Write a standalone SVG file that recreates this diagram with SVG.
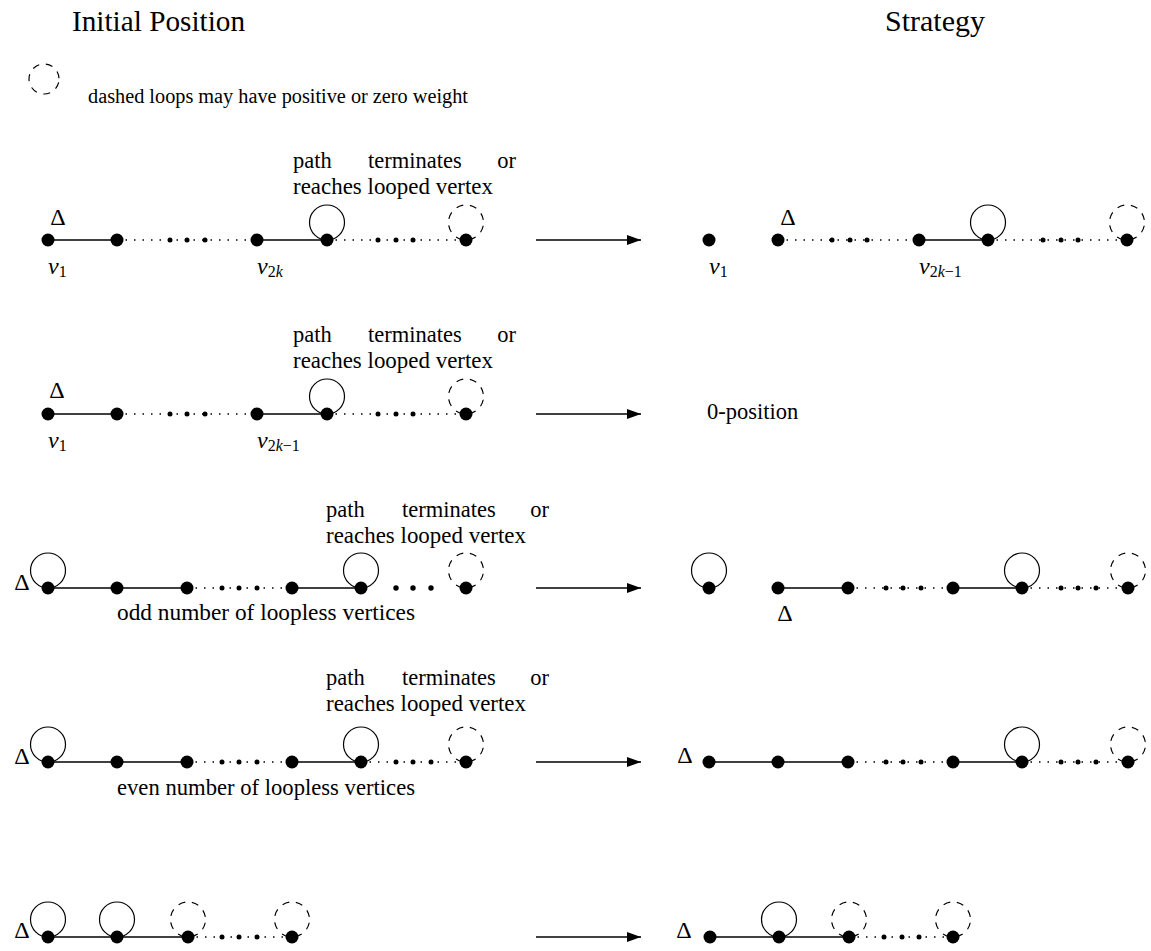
<svg xmlns="http://www.w3.org/2000/svg" width="1151" height="951" viewBox="0 0 1151 951">
<defs>
<style>
.node{fill:#000}
.sd{fill:#000}
.edge{stroke:#000;stroke-width:1.3;fill:none}
.dot{stroke:#000;stroke-width:1.5;fill:none;stroke-dasharray:1.5 7}
.loop{stroke:#000;stroke-width:1.2;fill:none}
.dloop{stroke:#000;stroke-width:1.2;fill:none;stroke-dasharray:7 6.75;stroke-dashoffset:10.4}
.arr{stroke:#000;stroke-width:1.3;fill:none}
</style>
<marker id="ah" viewBox="0 0 14 10" refX="14" refY="5" markerWidth="14" markerHeight="10" markerUnits="userSpaceOnUse" orient="auto">
<path d="M0,0 L14,5 L0,10 Z" fill="#000"/>
</marker>
</defs>
<rect width="1151" height="951" fill="#fff"/>

<g id="headers">
<text font-family="Liberation Serif" font-size="29" x="72" y="31" textLength="173" lengthAdjust="spacingAndGlyphs">Initial Position</text>
<text font-family="Liberation Serif" font-size="29" x="885" y="31" textLength="100" lengthAdjust="spacingAndGlyphs">Strategy</text>
</g>

<g id="legend">
<circle class="dloop" cx="44" cy="79" r="15"/>
<text font-family="Liberation Serif" font-size="20.5" x="88" y="103" textLength="380" lengthAdjust="spacingAndGlyphs">dashed loops may have positive or zero weight</text>
</g>

<g id="connectors">
<line class="edge" x1="48" y1="240" x2="117" y2="240"/>
<line class="dot" x1="117" y1="240" x2="257" y2="240"/>
<line class="edge" x1="257" y1="240" x2="327" y2="240"/>
<line class="dot" x1="327" y1="240" x2="466" y2="240"/>
<line class="arr" x1="536" y1="240" x2="641" y2="240" marker-end="url(#ah)"/>
<line class="dot" x1="778" y1="240" x2="919" y2="240"/>
<line class="edge" x1="919" y1="240" x2="988" y2="240"/>
<line class="dot" x1="988" y1="240" x2="1127" y2="240"/>
<line class="edge" x1="48" y1="414" x2="117" y2="414"/>
<line class="dot" x1="117" y1="414" x2="257" y2="414"/>
<line class="edge" x1="257" y1="414" x2="327" y2="414"/>
<line class="dot" x1="327" y1="414" x2="466" y2="414"/>
<line class="arr" x1="536" y1="414" x2="641" y2="414" marker-end="url(#ah)"/>
<line class="edge" x1="48" y1="588" x2="187" y2="588"/>
<line class="dot" x1="187" y1="588" x2="292" y2="588"/>
<line class="edge" x1="292" y1="588" x2="361" y2="588"/>
<line class="arr" x1="536" y1="588" x2="641" y2="588" marker-end="url(#ah)"/>
<line class="edge" x1="778" y1="588" x2="848" y2="588"/>
<line class="dot" x1="848" y1="588" x2="953" y2="588"/>
<line class="edge" x1="953" y1="588" x2="1022" y2="588"/>
<line class="dot" x1="1022" y1="588" x2="1128" y2="588"/>
<line class="edge" x1="48" y1="762" x2="187" y2="762"/>
<line class="dot" x1="187" y1="762" x2="292" y2="762"/>
<line class="edge" x1="292" y1="762" x2="361" y2="762"/>
<line class="dot" x1="361" y1="762" x2="466" y2="762"/>
<line class="arr" x1="536" y1="762" x2="641" y2="762" marker-end="url(#ah)"/>
<line class="edge" x1="709" y1="762" x2="848" y2="762"/>
<line class="dot" x1="848" y1="762" x2="953" y2="762"/>
<line class="edge" x1="953" y1="762" x2="1022" y2="762"/>
<line class="dot" x1="1022" y1="762" x2="1128" y2="762"/>
<line class="edge" x1="48" y1="937" x2="188" y2="937"/>
<line class="dot" x1="188" y1="937" x2="292" y2="937"/>
<line class="arr" x1="536" y1="937" x2="641" y2="937" marker-end="url(#ah)"/>
<line class="edge" x1="710" y1="937" x2="849" y2="937"/>
<line class="dot" x1="849" y1="937" x2="953" y2="937"/>
</g>

<g id="ellipsis-dots">
<circle class="sd" cx="170" cy="240" r="2.5"/><circle class="sd" cx="187" cy="240" r="2.5"/><circle class="sd" cx="205" cy="240" r="2.5"/>
<circle class="sd" cx="378" cy="240" r="2.5"/><circle class="sd" cx="396" cy="240" r="2.5"/><circle class="sd" cx="413" cy="240" r="2.5"/>
<circle class="sd" cx="832" cy="240" r="2.5"/><circle class="sd" cx="850" cy="240" r="2.5"/><circle class="sd" cx="867" cy="240" r="2.5"/>
<circle class="sd" cx="1043" cy="240" r="2.5"/><circle class="sd" cx="1061" cy="240" r="2.5"/><circle class="sd" cx="1078" cy="240" r="2.5"/>
<circle class="sd" cx="170" cy="414" r="2.5"/><circle class="sd" cx="187" cy="414" r="2.5"/><circle class="sd" cx="205" cy="414" r="2.5"/>
<circle class="sd" cx="378" cy="414" r="2.5"/><circle class="sd" cx="396" cy="414" r="2.5"/><circle class="sd" cx="413" cy="414" r="2.5"/>
<circle class="sd" cx="222" cy="588" r="2.5"/><circle class="sd" cx="239" cy="588" r="2.5"/><circle class="sd" cx="257" cy="588" r="2.5"/>
<circle class="sd" cx="396" cy="588" r="2.7"/><circle class="sd" cx="413" cy="588" r="2.7"/><circle class="sd" cx="431" cy="588" r="2.7"/>
<circle class="sd" cx="886" cy="588" r="2.5"/><circle class="sd" cx="903" cy="588" r="2.5"/><circle class="sd" cx="921" cy="588" r="2.5"/>
<circle class="sd" cx="1061" cy="588" r="2.5"/><circle class="sd" cx="1078" cy="588" r="2.5"/><circle class="sd" cx="1096" cy="588" r="2.5"/>
<circle class="sd" cx="222" cy="762" r="2.5"/><circle class="sd" cx="239" cy="762" r="2.5"/><circle class="sd" cx="257" cy="762" r="2.5"/>
<circle class="sd" cx="396" cy="762" r="2.5"/><circle class="sd" cx="413" cy="762" r="2.5"/><circle class="sd" cx="431" cy="762" r="2.5"/>
<circle class="sd" cx="886" cy="762" r="2.5"/><circle class="sd" cx="903" cy="762" r="2.5"/><circle class="sd" cx="921" cy="762" r="2.5"/>
<circle class="sd" cx="1061" cy="762" r="2.5"/><circle class="sd" cx="1078" cy="762" r="2.5"/><circle class="sd" cx="1096" cy="762" r="2.5"/>
<circle class="sd" cx="222" cy="937" r="2.5"/><circle class="sd" cx="239" cy="937" r="2.5"/><circle class="sd" cx="257" cy="937" r="2.5"/>
<circle class="sd" cx="884" cy="937" r="2.5"/><circle class="sd" cx="902" cy="937" r="2.5"/><circle class="sd" cx="919" cy="937" r="2.5"/>
</g>

<g id="r1L-n1"><circle class="node" cx="48" cy="240" r="6.5"/></g>
<g id="r1L-n2"><circle class="node" cx="117" cy="240" r="6.5"/></g>
<g id="r1L-n3"><circle class="node" cx="257" cy="240" r="6.5"/></g>
<g id="r1L-n4"><circle class="loop" cx="327" cy="222.5" r="17.5"/><circle class="node" cx="327" cy="240" r="6.5"/></g>
<g id="r1L-n5"><circle class="dloop" cx="466" cy="222.5" r="17.5"/><circle class="node" cx="466" cy="240" r="6.5"/></g>
<g id="r1L-labels">
<text font-family="Liberation Serif" font-size="24" text-anchor="middle" x="58" y="225">Δ</text>
<text font-family="Liberation Serif" font-size="24" font-style="italic" x="48" y="274">v<tspan font-size="16" font-style="normal" dy="3">1</tspan></text>
<text font-family="Liberation Serif" font-size="24" font-style="italic" x="257" y="274">v<tspan font-size="16" font-style="normal" dy="3">2</tspan><tspan font-size="16">k</tspan></text>
<text font-family="Liberation Serif" font-size="22.5" x="293" y="168">path</text>
<text font-family="Liberation Serif" font-size="22.5" x="368" y="168">terminates</text>
<text font-family="Liberation Serif" font-size="22.5" x="516" y="168" text-anchor="end">or</text>
<text font-family="Liberation Serif" font-size="22.5" x="293" y="194" textLength="200" lengthAdjust="spacingAndGlyphs">reaches looped vertex</text>
</g>
<g id="r1R-n1"><circle class="node" cx="709" cy="240" r="6.5"/></g>
<g id="r1R-n2"><circle class="node" cx="778" cy="240" r="6.5"/></g>
<g id="r1R-n3"><circle class="node" cx="919" cy="240" r="6.5"/></g>
<g id="r1R-n4"><circle class="loop" cx="988" cy="222.5" r="17.5"/><circle class="node" cx="988" cy="240" r="6.5"/></g>
<g id="r1R-n5"><circle class="dloop" cx="1127" cy="222.5" r="17.5"/><circle class="node" cx="1127" cy="240" r="6.5"/></g>
<g id="r1R-labels">
<text font-family="Liberation Serif" font-size="24" text-anchor="middle" x="788" y="225">Δ</text>
<text font-family="Liberation Serif" font-size="24" font-style="italic" x="709" y="274">v<tspan font-size="16" font-style="normal" dy="3">1</tspan></text>
<text font-family="Liberation Serif" font-size="24" font-style="italic" x="919" y="274">v<tspan font-size="16" font-style="normal" dy="3">2</tspan><tspan font-size="16">k</tspan><tspan font-size="16" font-style="normal">−1</tspan></text>
</g>

<g id="r2L-n1"><circle class="node" cx="48" cy="414" r="6.5"/></g>
<g id="r2L-n2"><circle class="node" cx="117" cy="414" r="6.5"/></g>
<g id="r2L-n3"><circle class="node" cx="257" cy="414" r="6.5"/></g>
<g id="r2L-n4"><circle class="loop" cx="327" cy="396.5" r="17.5"/><circle class="node" cx="327" cy="414" r="6.5"/></g>
<g id="r2L-n5"><circle class="dloop" cx="466" cy="396.5" r="17.5"/><circle class="node" cx="466" cy="414" r="6.5"/></g>
<g id="r2L-labels">
<text font-family="Liberation Serif" font-size="24" text-anchor="middle" x="57" y="398">Δ</text>
<text font-family="Liberation Serif" font-size="24" font-style="italic" x="48" y="448">v<tspan font-size="16" font-style="normal" dy="3">1</tspan></text>
<text font-family="Liberation Serif" font-size="24" font-style="italic" x="257" y="448">v<tspan font-size="16" font-style="normal" dy="3">2</tspan><tspan font-size="16">k</tspan><tspan font-size="16" font-style="normal">−1</tspan></text>
<text font-family="Liberation Serif" font-size="22.5" x="293" y="342">path</text>
<text font-family="Liberation Serif" font-size="22.5" x="368" y="342">terminates</text>
<text font-family="Liberation Serif" font-size="22.5" x="516" y="342" text-anchor="end">or</text>
<text font-family="Liberation Serif" font-size="22.5" x="293" y="368" textLength="200" lengthAdjust="spacingAndGlyphs">reaches looped vertex</text>
</g>
<g id="r2R-result"><text font-family="Liberation Serif" font-size="22.5" x="707" y="419">0-position</text></g>

<g id="r3L-n1"><circle class="loop" cx="48" cy="570.5" r="17.5"/><circle class="node" cx="48" cy="588" r="6.5"/></g>
<g id="r3L-n2"><circle class="node" cx="117" cy="588" r="6.5"/></g>
<g id="r3L-n3"><circle class="node" cx="187" cy="588" r="6.5"/></g>
<g id="r3L-n4"><circle class="node" cx="292" cy="588" r="6.5"/></g>
<g id="r3L-n5"><circle class="loop" cx="361" cy="570.5" r="17.5"/><circle class="node" cx="361" cy="588" r="6.5"/></g>
<g id="r3L-n6"><circle class="dloop" cx="466" cy="570.5" r="17.5"/><circle class="node" cx="466" cy="588" r="6.5"/></g>
<g id="r3L-labels">
<text font-family="Liberation Serif" font-size="24" text-anchor="middle" x="22" y="590">Δ</text>
<text font-family="Liberation Serif" font-size="22.5" x="326" y="517">path</text>
<text font-family="Liberation Serif" font-size="22.5" x="402" y="517">terminates</text>
<text font-family="Liberation Serif" font-size="22.5" x="549" y="517" text-anchor="end">or</text>
<text font-family="Liberation Serif" font-size="22.5" x="326" y="543" textLength="200" lengthAdjust="spacingAndGlyphs">reaches looped vertex</text>
<text font-family="Liberation Serif" font-size="22.5" x="117" y="620" textLength="298" lengthAdjust="spacingAndGlyphs">odd number of loopless vertices</text>
</g>
<g id="r3R-n1"><circle class="loop" cx="709" cy="570.5" r="17.5"/><circle class="node" cx="709" cy="588" r="6.5"/></g>
<g id="r3R-n2"><circle class="node" cx="778" cy="588" r="6.5"/></g>
<g id="r3R-n3"><circle class="node" cx="848" cy="588" r="6.5"/></g>
<g id="r3R-n4"><circle class="node" cx="953" cy="588" r="6.5"/></g>
<g id="r3R-n5"><circle class="loop" cx="1022" cy="570.5" r="17.5"/><circle class="node" cx="1022" cy="588" r="6.5"/></g>
<g id="r3R-n6"><circle class="dloop" cx="1128" cy="570.5" r="17.5"/><circle class="node" cx="1128" cy="588" r="6.5"/></g>
<g id="r3R-labels"><text font-family="Liberation Serif" font-size="24" text-anchor="middle" x="785" y="621">Δ</text></g>

<g id="r4L-n1"><circle class="loop" cx="48" cy="744.5" r="17.5"/><circle class="node" cx="48" cy="762" r="6.5"/></g>
<g id="r4L-n2"><circle class="node" cx="117" cy="762" r="6.5"/></g>
<g id="r4L-n3"><circle class="node" cx="187" cy="762" r="6.5"/></g>
<g id="r4L-n4"><circle class="node" cx="292" cy="762" r="6.5"/></g>
<g id="r4L-n5"><circle class="loop" cx="361" cy="744.5" r="17.5"/><circle class="node" cx="361" cy="762" r="6.5"/></g>
<g id="r4L-n6"><circle class="dloop" cx="466" cy="744.5" r="17.5"/><circle class="node" cx="466" cy="762" r="6.5"/></g>
<g id="r4L-labels">
<text font-family="Liberation Serif" font-size="24" text-anchor="middle" x="22" y="764">Δ</text>
<text font-family="Liberation Serif" font-size="22.5" x="326" y="685">path</text>
<text font-family="Liberation Serif" font-size="22.5" x="402" y="685">terminates</text>
<text font-family="Liberation Serif" font-size="22.5" x="549" y="685" text-anchor="end">or</text>
<text font-family="Liberation Serif" font-size="22.5" x="326" y="711" textLength="200" lengthAdjust="spacingAndGlyphs">reaches looped vertex</text>
<text font-family="Liberation Serif" font-size="22.5" x="117" y="795" textLength="298" lengthAdjust="spacingAndGlyphs">even number of loopless vertices</text>
</g>
<g id="r4R-n1"><circle class="node" cx="709" cy="762" r="6.5"/></g>
<g id="r4R-n2"><circle class="node" cx="778" cy="762" r="6.5"/></g>
<g id="r4R-n3"><circle class="node" cx="848" cy="762" r="6.5"/></g>
<g id="r4R-n4"><circle class="node" cx="953" cy="762" r="6.5"/></g>
<g id="r4R-n5"><circle class="loop" cx="1022" cy="744.5" r="17.5"/><circle class="node" cx="1022" cy="762" r="6.5"/></g>
<g id="r4R-n6"><circle class="dloop" cx="1128" cy="744.5" r="17.5"/><circle class="node" cx="1128" cy="762" r="6.5"/></g>
<g id="r4R-labels"><text font-family="Liberation Serif" font-size="24" text-anchor="middle" x="685" y="763">Δ</text></g>

<g id="r5L-n1"><circle class="loop" cx="48" cy="919.5" r="17.5"/><circle class="node" cx="48" cy="937" r="6.5"/></g>
<g id="r5L-n2"><circle class="loop" cx="117" cy="919.5" r="17.5"/><circle class="node" cx="117" cy="937" r="6.5"/></g>
<g id="r5L-n3"><circle class="dloop" cx="188" cy="919.5" r="17.5"/><circle class="node" cx="188" cy="937" r="6.5"/></g>
<g id="r5L-n4"><circle class="dloop" cx="292" cy="919.5" r="17.5"/><circle class="node" cx="292" cy="937" r="6.5"/></g>
<g id="r5L-labels"><text font-family="Liberation Serif" font-size="24" text-anchor="middle" x="22" y="938">Δ</text></g>
<g id="r5R-n1"><circle class="node" cx="710" cy="937" r="6.5"/></g>
<g id="r5R-n2"><circle class="loop" cx="779" cy="919.5" r="17.5"/><circle class="node" cx="779" cy="937" r="6.5"/></g>
<g id="r5R-n3"><circle class="dloop" cx="849" cy="919.5" r="17.5"/><circle class="node" cx="849" cy="937" r="6.5"/></g>
<g id="r5R-n4"><circle class="dloop" cx="953" cy="919.5" r="17.5"/><circle class="node" cx="953" cy="937" r="6.5"/></g>
<g id="r5R-labels"><text font-family="Liberation Serif" font-size="24" text-anchor="middle" x="684" y="938">Δ</text></g>
</svg>
